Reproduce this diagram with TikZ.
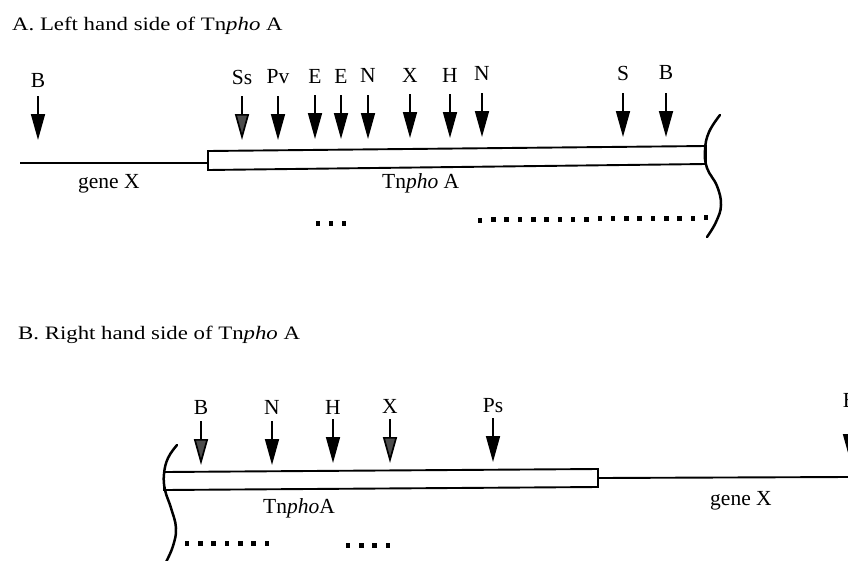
\documentclass[tikz,border=0pt]{standalone}
\usepackage{fontspec}
\setmainfont{Liberation Serif}
\usepackage{graphicx}
\usetikzlibrary{arrows.meta}
\begin{document}
\begin{tikzpicture}[x=1pt,y=-1pt,
 lbl/.style={font=\fontsize{21.5}{24}\selectfont, anchor=base, inner sep=0pt},
 ttl/.style={anchor=base west, inner sep=0pt},
 site/.style={line width=1.7pt, -{Triangle[length=26pt,width=14pt]}},
 sitegray/.style={line width=1.7pt, -{Triangle[length=26pt,width=14pt,fill=black!70]}},
 gene/.style={line width=1.9pt},
 tn/.style={line width=1.9pt, fill=white, line join=miter},
 brk/.style={line width=2.5pt, line cap=round}]
\useasboundingbox (0,0) rectangle (848,560);

% titles
\node[ttl] (titleA) at (12,30) {\scalebox{1.2}[1]{\fontsize{19}{22}\selectfont A. Left hand side of Tn\textit{pho} A}};
\node[ttl] (titleB) at (18,339) {\scalebox{1.2}[1]{\fontsize{19}{22}\selectfont B. Right hand side of Tn\textit{pho} A}};

% ---------- Part A ----------
\coordinate (aL) at (20,163);
\coordinate (aBoxL) at (208,163);
\draw[gene] (aL) -- (aBoxL);
\draw[tn] (208,151) -- (706,146) -- (706,164) -- (208,170) -- cycle;
\draw[brk] plot[smooth,tension=0.7] coordinates {(720,115) (709,132) (705,150) (707,168) (717,186) (721,205) (716,222) (707,237)};

\node[lbl, anchor=base west] (gA) at (78,188) {gene X};
\node[lbl, anchor=base west] (tA) at (382,188) {Tn\textit{pho} A};

\foreach \x in {318,331,344} \fill (\x-2.2,220.5) rectangle ++(4.5,5);
\foreach \i in {0,...,17} \fill ({480+13.3*\i-2.2},{217.5-0.12*\i}) rectangle ++(4.5,5);

% ---------- Part B ----------
\draw[tn] (164,472) -- (598,469) -- (598,487) -- (164,490) -- cycle;
\coordinate (bBoxR) at (598,478);
\coordinate (bR) at (848,477);
\draw[gene] (bBoxR) -- (bR);
\draw[brk] plot[smooth,tension=0.7] coordinates {(177,445) (168,458) (164,474) (165,490) (171,508) (176,528) (173,546) (166,562)};

\node[lbl, anchor=base west] (tB) at (263,513) {Tn\textit{pho}A};
\node[lbl, anchor=base west] (gB) at (710,505) {gene X};

\foreach \i in {0,...,6} \fill ({187+13.3*\i-2.2},540.5) rectangle ++(4.5,5);
\foreach \i in {0,...,3} \fill ({348+13.3*\i-2.2},542.5) rectangle ++(4.5,5);

% ---------- restriction sites ----------
\foreach \n/\x/\txt/\b/\tp/\st in {
 a1/38/B/87/140/site,
 a2/242/Ss/84/140/sitegray,
 a3/278/Pv/83/140/site,
 a4/315/E/83/139/site,
 a5/341/E/83/139/site,
 a6/368/N/82/139/site,
 a7/410/X/82/138/site,
 a8/450/H/82/138/site,
 a9/482/N/80/137/site,
 a10/623/S/80/137/site,
 a11/666/B/79/137/site,
 b1/201/B/414/465/sitegray,
 b2/272/N/414/465/site,
 b3/333/H/414/463/site,
 b4/390/X/413/463/sitegray,
 b5/493/Ps/412/462/site,
 b6/850/B/407/460/site}
{
 \node[lbl] (\n) at (\x,\b) {\txt};
 \coordinate (\n s) at (\x,\tp-44);
 \coordinate (\n t) at (\x,\tp);
 \draw[\st] (\n s) -- (\n t);
}
\end{tikzpicture}
\end{document}
